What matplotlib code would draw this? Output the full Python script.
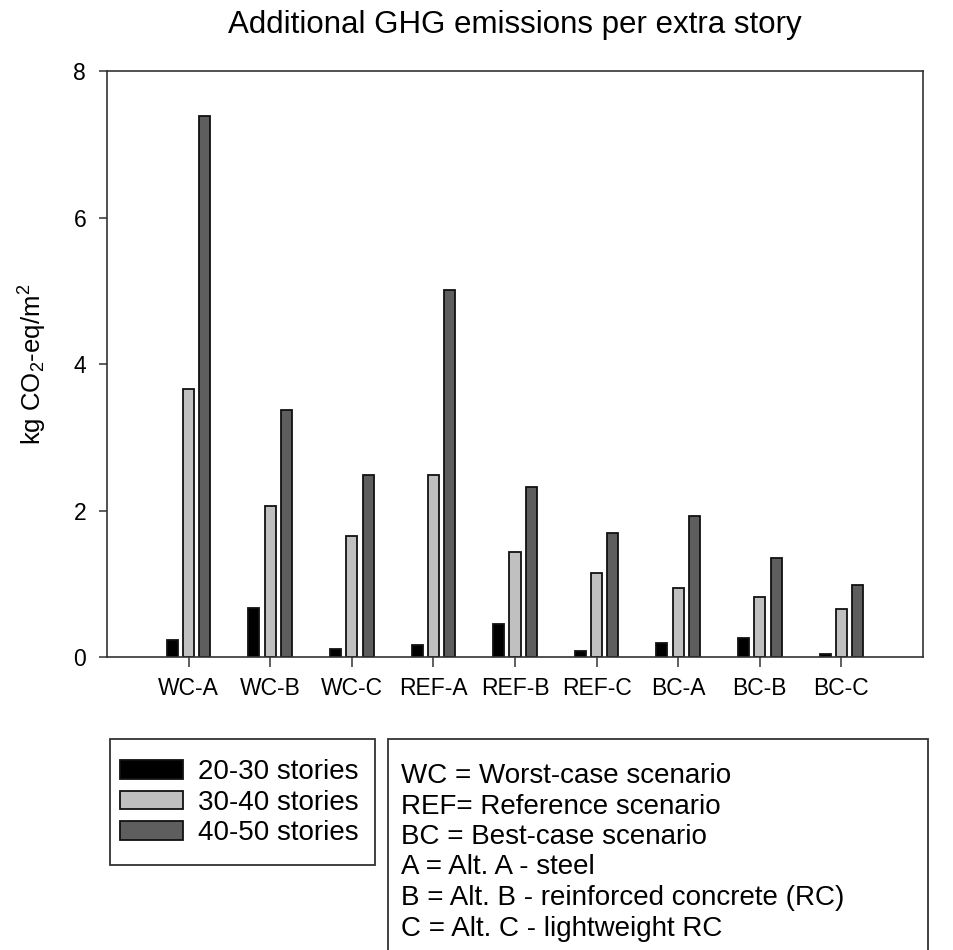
import numpy as np
import matplotlib
matplotlib.use("Agg")
import matplotlib.pyplot as plt
from matplotlib.patches import Rectangle

plt.rcParams['font.family'] = ['Liberation Sans', 'DejaVu Sans']

# Datos (kg CO2-eq/m2 por piso extra)
categorias = ['WC-A', 'WC-B', 'WC-C', 'REF-A', 'REF-B', 'REF-C', 'BC-A', 'BC-B', 'BC-C']
pisos_20_30 = [0.24, 0.67, 0.12, 0.17, 0.46, 0.08, 0.19, 0.27, 0.05]
pisos_30_40 = [3.66, 2.07, 1.66, 2.49, 1.43, 1.15, 0.94, 0.82, 0.66]
pisos_40_50 = [7.39, 3.37, 2.49, 5.01, 2.32, 1.70, 1.93, 1.35, 0.99]

series = ['20-30 stories', '30-40 stories', '40-50 stories']
colores = ['#000000', '#c0c0c0', '#5e5e5e']

notas = ['WC = Worst-case scenario',
         'REF= Reference scenario',
         'BC = Best-case scenario',
         'A = Alt. A - steel',
         'B = Alt. B - reinforced concrete (RC)',
         'C = Alt. C - lightweight RC']

W, H = 954, 950
fig = plt.figure(figsize=(W / 100, H / 100), dpi=100)
ax = fig.add_axes([107 / W, 1 - 657.3 / H, 816 / W, 586.3 / H])

x = np.arange(len(categorias))
ancho = 0.135
desplaz = [-0.2, 0.0, 0.2]
barras = []
for datos, col, d, lab in zip([pisos_20_30, pisos_30_40, pisos_40_50], colores, desplaz, series):
    b = ax.bar(x + d, datos, ancho, color=col, edgecolor='#111111', linewidth=1.3, label=lab)
    barras.append(b)

ax.set_xlim(-1, 9)
ax.set_ylim(0, 8)
ax.set_yticks([0, 2, 4, 6, 8])
ax.set_xticks(x)
ax.set_xticklabels(categorias)
ax.tick_params(axis='x', length=7, width=1.1, pad=7, labelsize=16.5, color='#333333')
ax.tick_params(axis='y', length=6, width=1.1, pad=9, labelsize=16.5, color='#333333')
for s in ax.spines.values():
    s.set_color('#333333')
    s.set_linewidth(1.2)

ax.set_title('Additional GHG emissions per extra story', fontsize=22.5, pad=27)
ax.set_ylabel('kg CO$\\mathregular{_2}$-eq/m$\\mathregular{^2}$', fontsize=18.5)
ax.yaxis.set_label_coords(-0.071, 0.5)

# Cuadro de la leyenda
fig.add_artist(Rectangle((110 / W, 1 - 865 / H), 265 / W, 126 / H, transform=fig.transFigure,
                         fill=False, edgecolor='#333333', linewidth=1.3))
fig.legend(handles=barras, loc='upper left', bbox_to_anchor=(120 / W, 1 - 759 / H),
           borderaxespad=0, borderpad=0, frameon=False, fontsize=20,
           handlelength=2.27, handleheight=0.65, handletextpad=0.54, labelspacing=0.17)

# Cuadro de abreviaturas
fig.add_artist(Rectangle((388 / W, -0.05), 540 / W, 1 - 739 / H + 0.05, transform=fig.transFigure,
                         fill=False, edgecolor='#333333', linewidth=1.3, clip_on=False))
for i, t in enumerate(notas):
    fig.text(401 / W, 1 - (783 + 30.5 * i) / H, t, fontsize=20, va='baseline', ha='left')

fig.savefig('out.png', dpi=100)
